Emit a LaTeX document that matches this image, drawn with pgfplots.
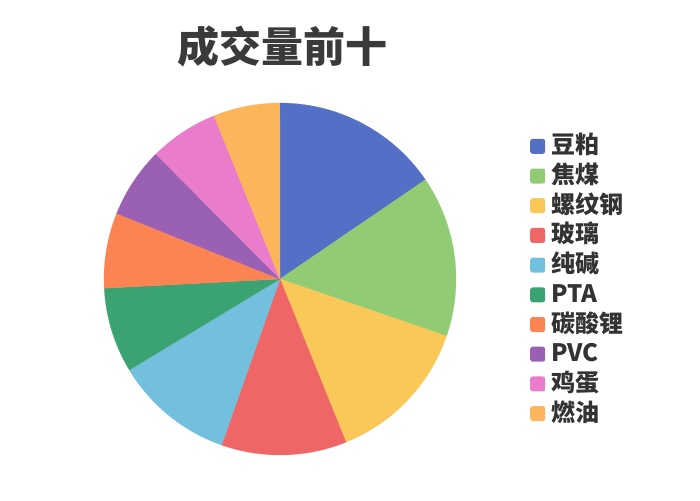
\documentclass[border=0pt]{standalone}
\usepackage{fontspec}
\setmainfont{Noto Sans CJK SC}
\usepackage{pgfplots}
\pgfplotsset{compat=1.18}
\definecolor{cA}{HTML}{5470C6}
\definecolor{cB}{HTML}{91CC75}
\definecolor{cC}{HTML}{FAC858}
\definecolor{cD}{HTML}{EE6666}
\definecolor{cE}{HTML}{73C0DE}
\definecolor{cF}{HTML}{3BA272}
\definecolor{cG}{HTML}{FC8452}
\definecolor{cH}{HTML}{9A60B4}
\definecolor{cI}{HTML}{EA7CCC}
\definecolor{cJ}{HTML}{FDB55B}
\definecolor{titlec}{HTML}{3A3A3A}
\definecolor{textc}{HTML}{333333}
% slice values (share of volume, in degrees of the pie)
\def\vA{55.7}% 豆粕
\def\vB{53.2}% 焦煤
\def\vC{49.1}% 螺纹钢
\def\vD{41.4}% 玻璃
\def\vE{39.5}% 纯碱
\def\vF{28.1}% PTA
\def\vG{24.9}% 碳酸锂
\def\vH{23.3}% PVC
\def\vI{22.8}% 鸡蛋
\def\vJ{22.0}% 燃油
\begin{document}
\begin{tikzpicture}[x=1pt,y=1pt]
\pgfmathsetmacro\tot{\vA+\vB+\vC+\vD+\vE+\vF+\vG+\vH+\vI+\vJ}
\pgfmathsetmacro\aA{90}
\pgfmathsetmacro\aB{\aA-\vA/\tot*360}
\pgfmathsetmacro\aC{\aB-\vB/\tot*360}
\pgfmathsetmacro\aD{\aC-\vC/\tot*360}
\pgfmathsetmacro\aE{\aD-\vD/\tot*360}
\pgfmathsetmacro\aF{\aE-\vE/\tot*360}
\pgfmathsetmacro\aG{\aF-\vF/\tot*360}
\pgfmathsetmacro\aH{\aG-\vG/\tot*360}
\pgfmathsetmacro\aI{\aH-\vH/\tot*360}
\pgfmathsetmacro\aJ{\aI-\vI/\tot*360}
\pgfmathsetmacro\aK{\aJ-\vJ/\tot*360}
\begin{axis}[
  at={(280pt,221pt)}, anchor=center,
  x=176pt, y=176pt,
  xmin=-1, xmax=1, ymin=-1, ymax=1,
  hide axis, clip=false,
  samples=120, variable=\t,
  legend image code/.code={\fill[#1, draw=none, rounded corners=2.5pt] (0pt,-7.5pt) rectangle (15pt,7.5pt);},
  legend style={at={(1.2102,0.913)}, anchor=north west, draw=none, fill=none,
    font=\fontsize{24}{24}\selectfont\bfseries, text=textc,
    row sep=4.7pt, column sep=6pt, inner sep=0pt,
    nodes={inner sep=0pt, text height=20pt, text depth=5pt}},
  legend cell align=left,
]
\addplot[fill=cA, draw=cA, line width=0.2pt, domain=\aB:\aA] ({cos(\t)},{sin(\t)}) -- (axis cs:0,0) -- cycle;
\addlegendentry{豆粕}
\addplot[fill=cB, draw=cB, line width=0.2pt, domain=\aC:\aB] ({cos(\t)},{sin(\t)}) -- (axis cs:0,0) -- cycle;
\addlegendentry{焦煤}
\addplot[fill=cC, draw=cC, line width=0.2pt, domain=\aD:\aC] ({cos(\t)},{sin(\t)}) -- (axis cs:0,0) -- cycle;
\addlegendentry{螺纹钢}
\addplot[fill=cD, draw=cD, line width=0.2pt, domain=\aE:\aD] ({cos(\t)},{sin(\t)}) -- (axis cs:0,0) -- cycle;
\addlegendentry{玻璃}
\addplot[fill=cE, draw=cE, line width=0.2pt, domain=\aF:\aE] ({cos(\t)},{sin(\t)}) -- (axis cs:0,0) -- cycle;
\addlegendentry{纯碱}
\addplot[fill=cF, draw=cF, line width=0.2pt, domain=\aG:\aF] ({cos(\t)},{sin(\t)}) -- (axis cs:0,0) -- cycle;
\addlegendentry{PTA}
\addplot[fill=cG, draw=cG, line width=0.2pt, domain=\aH:\aG] ({cos(\t)},{sin(\t)}) -- (axis cs:0,0) -- cycle;
\addlegendentry{碳酸锂}
\addplot[fill=cH, draw=cH, line width=0.2pt, domain=\aI:\aH] ({cos(\t)},{sin(\t)}) -- (axis cs:0,0) -- cycle;
\addlegendentry{PVC}
\addplot[fill=cI, draw=cI, line width=0.2pt, domain=\aJ:\aI] ({cos(\t)},{sin(\t)}) -- (axis cs:0,0) -- cycle;
\addlegendentry{鸡蛋}
\addplot[fill=cJ, draw=cJ, line width=0.2pt, domain=\aK:\aJ] ({cos(\t)},{sin(\t)}) -- (axis cs:0,0) -- cycle;
\addlegendentry{燃油}
\end{axis}
\node[font=\fontsize{42}{50}\selectfont\bfseries, text=titlec, inner sep=0pt] at (282.5,453) {成交量前十};
\pgfresetboundingbox
\path[use as bounding box] (0,0) rectangle (700,500);
\end{tikzpicture}
\end{document}
